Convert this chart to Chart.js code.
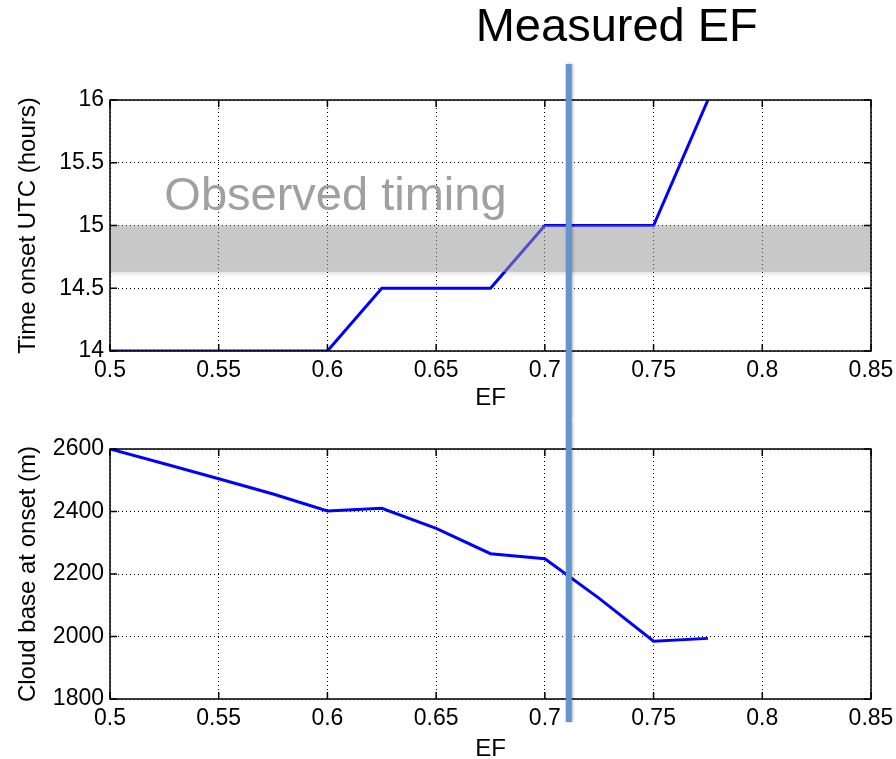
<!DOCTYPE html>
<html>
<head>
<meta charset="utf-8">
<title>EF sensitivity</title>
<script src="https://cdn.jsdelivr.net/npm/chart.js@4"></script>
<style>
  body { margin: 0; background: #fff; }
  canvas { display: block; }
</style>
</head>
<body>
<canvas id="onsetChart" width="896" height="420"></canvas>
<canvas id="cloudChart" width="896" height="339"></canvas>
<script>
// entrainment factor runs and what they give
const efValues   = [0.5, 0.525, 0.55, 0.575, 0.6, 0.625, 0.65, 0.675, 0.7, 0.725, 0.75, 0.775];
const onsetHours = [14, 14, 14, 14, 14, 14.5, 14.5, 14.5, 15, 15, 15, 16];
const cloudBase  = [2600, 2553, 2505, 2456, 2402, 2410, 2346, 2265, 2249, 2122, 1985, 1994];

const efTicks    = [0.5, 0.55, 0.6, 0.65, 0.7, 0.75, 0.8, 0.85];
const onsetTicks = [14, 14.5, 15, 15.5, 16];
const cloudTicks = [1800, 2000, 2200, 2400, 2600];

const measuredEF = 0.711;
const observedTiming = [14.63, 15];   // observed onset window, hours UTC
const observedLabelAt = [0.525, 15.12];

Chart.defaults.font.family = "'Liberation Sans', Arial, Helvetica, sans-serif";
Chart.defaults.color = '#000';

function xAxis(height, titlePad) {
  return {
    type: 'linear', min: 0.5, max: 0.85,
    afterBuildTicks: s => { s.ticks = efTicks.map(v => ({ value: v })); },
    afterFit: s => {
      s.height = height;
      // end labels may hang over the edges; keep the plot box where it is
      s.paddingLeft = 0;
      s.paddingRight = 0;
    },
    grid: { color: '#000', lineWidth: 1, drawTicks: false },
    border: { display: false, dash: [1, 3] },
    ticks: { padding: 6, font: { size: 23 }, color: '#000', maxRotation: 0, autoSkip: false, callback: v => String(v) },
    title: { display: true, text: 'EF', color: '#000', font: { size: 24, lineHeight: 0.8 }, padding: { top: 0, bottom: titlePad } }
  };
}

function yAxis(ticks, label) {
  return {
    type: 'linear', min: ticks[0], max: ticks[ticks.length - 1],
    afterBuildTicks: s => { s.ticks = ticks.map(v => ({ value: v })); },
    afterFit: s => { s.width = 110; },
    grid: { color: '#000', lineWidth: 1, drawTicks: false },
    border: { display: false, dash: [1, 3] },
    ticks: { padding: 6, font: { size: 23 }, color: '#000', autoSkip: false, callback: v => String(v) },
    title: { display: true, text: label, color: '#000', font: { size: 24, lineHeight: 0.8 }, padding: { top: 19, bottom: 0 } }
  };
}

// box round the axes with short inward ticks on every side
const axesBox = {
  id: 'axesBox',
  afterDraw(chart) {
    const { ctx, chartArea: a, scales: { x, y } } = chart;
    ctx.save();
    ctx.strokeStyle = '#000';
    ctx.lineWidth = 1.5;
    ctx.strokeRect(a.left, a.top, a.right - a.left, a.bottom - a.top);
    ctx.beginPath();
    x.ticks.forEach(t => {
      const px = x.getPixelForValue(t.value);
      ctx.moveTo(px, a.bottom); ctx.lineTo(px, a.bottom - 7);
      ctx.moveTo(px, a.top); ctx.lineTo(px, a.top + 7);
    });
    y.ticks.forEach(t => {
      const py = y.getPixelForValue(t.value);
      ctx.moveTo(a.left, py); ctx.lineTo(a.left + 7, py);
      ctx.moveTo(a.right, py); ctx.lineTo(a.right - 7, py);
    });
    ctx.stroke();
    ctx.restore();
  }
};

// the measured EF marker, one piece per canvas
function measuredLine(spanOf) {
  return {
    id: 'measuredLine',
    afterDraw(chart) {
      const { ctx, scales: { x } } = chart;
      const px = x.getPixelForValue(measuredEF);
      const [y0, y1] = spanOf(chart);
      ctx.save();
      ctx.shadowColor = 'rgba(0,0,0,0.3)';
      ctx.shadowBlur = 3;
      ctx.shadowOffsetX = 1;
      ctx.strokeStyle = 'rgb(100,150,203)';
      ctx.lineWidth = 6;
      ctx.beginPath();
      ctx.moveTo(px, y0);
      ctx.lineTo(px, y1);
      ctx.stroke();
      ctx.restore();
    }
  };
}

const observedBand = {
  id: 'observedBand',
  afterDatasetsDraw(chart) {
    const { ctx, chartArea: a, scales: { x, y } } = chart;
    const top = y.getPixelForValue(observedTiming[1]);
    const bottom = y.getPixelForValue(observedTiming[0]);
    const w = a.right - a.left;
    ctx.save();
    // soft fringe along the band edges
    let g = ctx.createLinearGradient(0, bottom, 0, bottom + 5);
    g.addColorStop(0, 'rgba(0,0,0,0.10)');
    g.addColorStop(1, 'rgba(0,0,0,0)');
    ctx.fillStyle = g;
    ctx.fillRect(a.left, bottom, w, 5);
    g = ctx.createLinearGradient(0, top, 0, top - 3);
    g.addColorStop(0, 'rgba(0,0,0,0.06)');
    g.addColorStop(1, 'rgba(0,0,0,0)');
    ctx.fillStyle = g;
    ctx.fillRect(a.left, top - 3, w, 3);
    ctx.fillStyle = 'rgba(151,151,151,0.53)';
    ctx.fillRect(a.left, top, w, bottom - top);
    ctx.restore();

    ctx.save();
    ctx.fillStyle = '#a0a0a0';
    ctx.font = "47px 'Liberation Sans', Arial, sans-serif";
    ctx.textAlign = 'left';
    ctx.textBaseline = 'alphabetic';
    ctx.fillText('Observed timing', x.getPixelForValue(observedLabelAt[0]), y.getPixelForValue(observedLabelAt[1]));
    ctx.restore();
  },
  afterDraw(chart) {
    const { ctx, scales: { x } } = chart;
    ctx.save();
    ctx.fillStyle = '#000';
    ctx.font = "47px 'Liberation Sans', Arial, sans-serif";
    ctx.textAlign = 'center';
    ctx.textBaseline = 'middle';
    ctx.fillText('Measured EF', x.getPixelForValue(measuredEF) + 48, 28);
    ctx.restore();
  }
};

function lineData(values) {
  return {
    datasets: [{
      data: efValues.map((ef, i) => ({ x: ef, y: values[i] })),
      borderColor: '#0000ff',
      borderWidth: 3,
      pointRadius: 0,
      tension: 0,
      fill: false
    }]
  };
}

const common = {
  responsive: false,
  animation: false,
  plugins: { legend: { display: false }, tooltip: { enabled: false } }
};

new Chart(document.getElementById('onsetChart'), {
  type: 'line',
  data: lineData(onsetHours),
  options: {
    ...common,
    layout: { padding: { top: 100, right: 25, left: 0, bottom: 0 } },
    scales: { x: xAxis(69, 12), y: yAxis(onsetTicks, 'Time onset UTC (hours)') }
  },
  plugins: [observedBand, axesBox, measuredLine(c => [c.chartArea.top - 36, c.height])]
});

new Chart(document.getElementById('cloudChart'), {
  type: 'line',
  data: lineData(cloudBase),
  options: {
    ...common,
    layout: { padding: { top: 29, right: 25, left: 0, bottom: 0 } },
    scales: { x: xAxis(60, 0), y: yAxis(cloudTicks, 'Cloud base at onset (m)') }
  },
  plugins: [axesBox, measuredLine(c => [0, c.chartArea.bottom + 23])]
});
</script>
</body>
</html>
